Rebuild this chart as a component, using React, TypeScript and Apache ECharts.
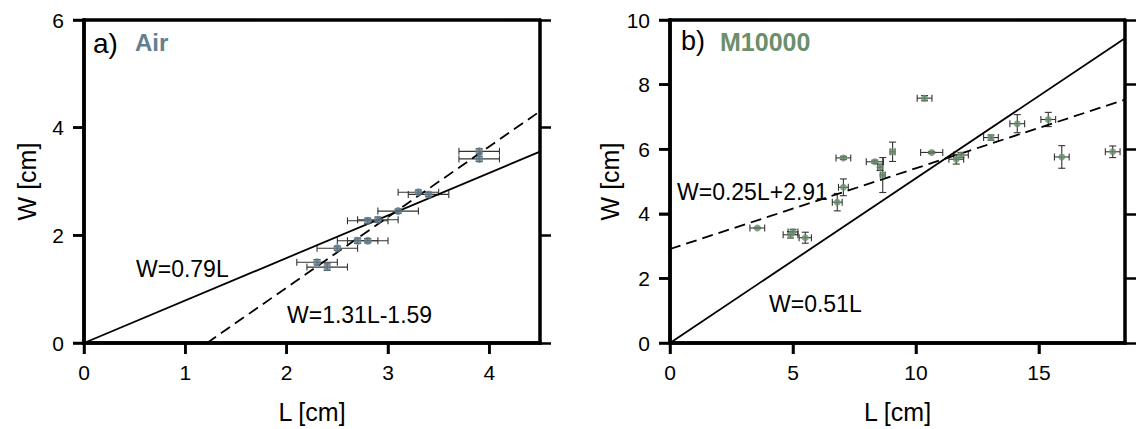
import React, { useEffect, useRef } from "react";
import * as echarts from "echarts";

// Panel a) Air
const airL = [3.9, 3.9, 3.3, 3.4, 3.1, 2.8, 2.9, 2.7, 2.8, 2.5, 2.3, 2.4];
const airW = [3.56, 3.42, 2.8, 2.76, 2.45, 2.27, 2.29, 1.9, 1.9, 1.76, 1.5, 1.41];
const airLerr = [0.2, 0.2, 0.2, 0.2, 0.2, 0.2, 0.2, 0.2, 0.2, 0.2, 0.2, 0.2];
const airWerr = [0.05, 0.05, 0.04, 0.04, 0.04, 0.05, 0.05, 0.05, 0.04, 0.04, 0.05, 0.06];

// Panel b) M10000
const mL = [3.55, 4.9, 5.0, 5.5, 6.8, 7.05, 7.05, 8.33, 8.54, 8.65, 9.05, 10.35, 10.64, 11.64, 11.83, 13.05, 14.12, 15.38, 15.93, 18.0];
const mW = [3.56, 3.35, 3.44, 3.26, 4.36, 4.82, 5.73, 5.61, 5.44, 5.2, 5.92, 7.58, 5.9, 5.69, 5.82, 6.36, 6.79, 6.92, 5.76, 5.92];
const mLerr = [0.3, 0.3, 0.2, 0.25, 0.2, 0.2, 0.3, 0.35, 0.1, 0.1, 0.1, 0.3, 0.45, 0.3, 0.3, 0.3, 0.3, 0.3, 0.3, 0.3];
const mWerr = [0.02, 0.1, 0.08, 0.17, 0.27, 0.26, 0.05, 0.05, 0.1, 0.54, 0.3, 0.08, 0.03, 0.15, 0.08, 0.08, 0.28, 0.22, 0.35, 0.18];

// Fits: [slope, intercept]
const airFitSolid = [0.79, 0];
const airFitDashed = [1.31, -1.59];
const mFitSolid = [0.51, 0];
const mFitDashed = [0.25, 2.91];

// Axis ranges and ticks
const airXMax = 4.5;
const airYMax = 6;
const mXMax = 18.5;
const mYMax = 10;
const airXTicks = [0, 1, 2, 3, 4];
const airYTicks = [0, 2, 4, 6];
const mXTicks = [0, 5, 10, 15];
const mYTicks = [0, 2, 4, 6, 8, 10];

const airColor = "#64808f";
const mColor = "#6b8f6b";
const FONT = "Liberation Sans, Arial, Helvetica, sans-serif";

function fitLine(fit: number[], xmax: number) {
  const [a, b] = fit;
  const x0 = b < 0 ? -b / a : 0;
  return [
    [x0, a * x0 + b],
    [xmax, a * xmax + b],
  ];
}

function errData(L: number[], W: number[], le: number[], we: number[]) {
  return L.map((l, i) => [l, W[i], le[i], we[i]]);
}

function errRender(params: any, api: any) {
  const x = api.value(0), y = api.value(1), xe = api.value(2), ye = api.value(3);
  const l = api.coord([x - xe, y]);
  const r = api.coord([x + xe, y]);
  const t = api.coord([x, y + ye]);
  const b = api.coord([x, y - ye]);
  const cap = 3.5;
  const style = { stroke: "#333", lineWidth: 1.1, fill: "none" };
  return {
    type: "group",
    children: [
      { type: "line", shape: { x1: l[0], y1: l[1], x2: r[0], y2: r[1] }, style },
      { type: "line", shape: { x1: l[0], y1: l[1] - cap, x2: l[0], y2: l[1] + cap }, style },
      { type: "line", shape: { x1: r[0], y1: r[1] - cap, x2: r[0], y2: r[1] + cap }, style },
      { type: "line", shape: { x1: t[0], y1: t[1], x2: b[0], y2: b[1] }, style },
      { type: "line", shape: { x1: t[0] - cap, y1: t[1], x2: t[0] + cap, y2: t[1] }, style },
      { type: "line", shape: { x1: b[0] - cap, y1: b[1], x2: b[0] + cap, y2: b[1] }, style },
    ],
  };
}

const mkLine = () => ({ show: true, onZero: false, lineStyle: { color: "#000", width: 3.5 } });
const mkTick = () => ({ show: true, length: 11, inside: false, lineStyle: { color: "#000", width: 2.5 } });

function xAxes(gi: number, max: number, interval: number) {
  return [
    {
      type: "value", gridIndex: gi, min: 0, max, interval, position: "bottom", z: 20,
      axisLine: mkLine(), axisTick: mkTick(), splitLine: { show: false },
      axisLabel: { color: "#000", fontSize: 21, fontFamily: FONT, margin: 19, showMaxLabel: false },
      name: "L [cm]", nameLocation: "middle", nameGap: 56,
      nameTextStyle: { color: "#000", fontSize: 25, fontFamily: FONT },
    },
    {
      type: "value", gridIndex: gi, min: 0, max, interval, position: "top", z: 20,
      axisLine: mkLine(), axisTick: { show: false }, axisLabel: { show: false }, splitLine: { show: false },
    },
  ];
}

function yAxes(gi: number, max: number, interval: number) {
  return [
    {
      type: "value", gridIndex: gi, min: 0, max, interval, position: "left", z: 20,
      axisLine: mkLine(), axisTick: mkTick(), splitLine: { show: false },
      axisLabel: { color: "#000", fontSize: 21, fontFamily: FONT, margin: 20 },
      name: "W [cm]", nameLocation: "middle", nameGap: 45,
      nameTextStyle: { color: "#000", fontSize: 25, fontFamily: FONT },
    },
    {
      type: "value", gridIndex: gi, min: 0, max, interval, position: "right", z: 20,
      axisLine: mkLine(), axisTick: mkTick(), axisLabel: { show: false }, splitLine: { show: false },
    },
  ];
}

function txt(x: number, y: number, text: string, size: number, fill = "#000", bold = false) {
  return {
    type: "text", x, y, z: 10,
    style: { text, fontSize: size, fontFamily: FONT, fontWeight: bold ? "bold" : "normal", fill, verticalAlign: "middle", align: "left" },
  };
}

// Left/bottom axis lines and outward ticks, placed through the chart's own scales
function frameParts(chart: any, gi: number, xMax: number, yMax: number, xTicks: number[], yTicks: number[]) {
  const p00 = chart.convertToPixel({ gridIndex: gi }, [0, 0]);
  const p0y = chart.convertToPixel({ gridIndex: gi }, [0, yMax]);
  const px0 = chart.convertToPixel({ gridIndex: gi }, [xMax, 0]);
  const axisStyle = { stroke: "#000", lineWidth: 3.5 };
  const tickStyle = { stroke: "#000", lineWidth: 2.5 };
  const out: any[] = [
    { type: "line", z: 30, shape: { x1: p00[0], y1: p0y[1] - 1.75, x2: p00[0], y2: p00[1] + 1.75 }, style: axisStyle },
    { type: "line", z: 30, shape: { x1: p00[0] - 1.75, y1: p00[1], x2: px0[0] + 1.75, y2: px0[1] }, style: axisStyle },
  ];
  xTicks.forEach((v) => {
    const p = chart.convertToPixel({ gridIndex: gi }, [v, 0]);
    out.push({ type: "line", z: 30, shape: { x1: p[0], y1: p[1], x2: p[0], y2: p[1] + 11 }, style: tickStyle });
  });
  yTicks.forEach((v) => {
    const p = chart.convertToPixel({ gridIndex: gi }, [0, v]);
    out.push({ type: "line", z: 30, shape: { x1: p[0] - 11, y1: p[1], x2: p[0], y2: p[1] }, style: tickStyle });
  });
  return out;
}

export default function App() {
  const ref = useRef<HTMLDivElement>(null);
  useEffect(() => {
    if (!ref.current) return;
    const chart = echarts.init(ref.current, null, { renderer: "svg" });
    const texts = [
      txt(93, 43, "a)", 28),
      txt(135, 42, "Air", 24, airColor, true),
      txt(136, 269, "W=0.79L", 23),
      txt(287, 315, "W=1.31L-1.59", 23),
      txt(681, 41, "b)", 27),
      txt(720, 42, "M10000", 25, mColor, true),
      txt(677, 192, "W=0.25L+2.91", 23),
      txt(769, 304, "W=0.51L", 23),
    ];
    const option: any = {
      animation: false,
      backgroundColor: "#fff",
      grid: [
        { left: 84, top: 20, width: 456, height: 325 },
        { left: 670, top: 20, width: 455, height: 325 },
      ],
      xAxis: [...xAxes(0, airXMax, 1), ...xAxes(1, mXMax, 5)],
      yAxis: [...yAxes(0, airYMax, 2), ...yAxes(1, mYMax, 2)],
      series: [
        {
          type: "line", xAxisIndex: 0, yAxisIndex: 0, data: fitLine(airFitSolid, airXMax),
          symbol: "none", lineStyle: { color: "#000", width: 1.8 }, z: 3,
        },
        {
          type: "line", xAxisIndex: 0, yAxisIndex: 0, data: fitLine(airFitDashed, airXMax),
          symbol: "none", lineStyle: { color: "#000", width: 1.8, type: [11, 6] }, z: 3,
        },
        {
          type: "custom", xAxisIndex: 0, yAxisIndex: 0, renderItem: errRender,
          data: errData(airL, airW, airLerr, airWerr), z: 2,
        },
        {
          type: "scatter", xAxisIndex: 0, yAxisIndex: 0, symbol: "circle", symbolSize: 8,
          itemStyle: { color: airColor }, data: airL.map((l, i) => [l, airW[i]]), z: 4,
        },
        {
          type: "line", xAxisIndex: 2, yAxisIndex: 2, data: fitLine(mFitSolid, mXMax),
          symbol: "none", lineStyle: { color: "#000", width: 1.8 }, z: 3,
        },
        {
          type: "line", xAxisIndex: 2, yAxisIndex: 2, data: fitLine(mFitDashed, mXMax),
          symbol: "none", lineStyle: { color: "#000", width: 1.8, type: [11, 6] }, z: 3,
        },
        {
          type: "custom", xAxisIndex: 2, yAxisIndex: 2, renderItem: errRender,
          data: errData(mL, mW, mLerr, mWerr), z: 2,
        },
        {
          type: "scatter", xAxisIndex: 2, yAxisIndex: 2, symbol: "circle", symbolSize: 7,
          itemStyle: { color: mColor }, data: mL.map((l, i) => [l, mW[i]]), z: 4,
        },
      ],
      graphic: texts,
    };
    chart.setOption(option);
    const frames = [
      ...frameParts(chart, 0, airXMax, airYMax, airXTicks, airYTicks),
      ...frameParts(chart, 1, mXMax, mYMax, mXTicks, mYTicks),
    ];
    chart.setOption({ graphic: [...texts, ...frames] });
    return () => chart.dispose();
  }, []);
  return (
    <div
      ref={ref}
      style={{ position: "fixed", left: 0, top: 0, width: 1136, height: 429, background: "#fff" }}
    />
  );
}
